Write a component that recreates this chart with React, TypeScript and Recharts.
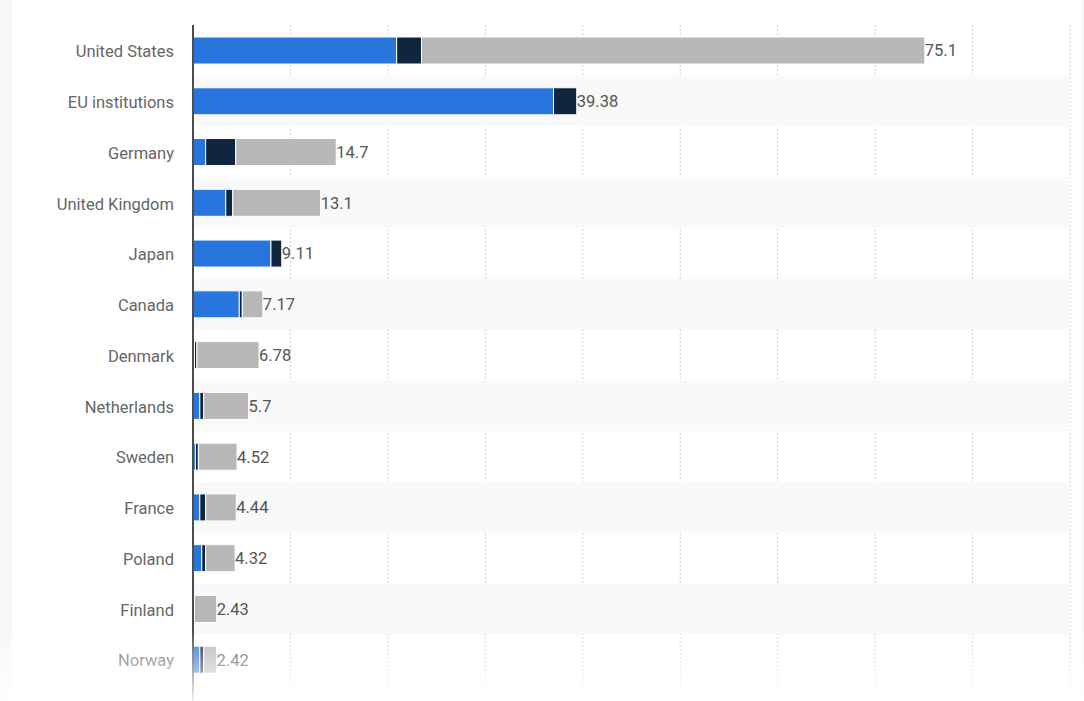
import {
    BarChart,
    Bar,
    XAxis,
    YAxis,
    CartesianGrid,
    ReferenceArea,
    LabelList,
} from "recharts";

const countries = [
    "United States",
    "EU institutions",
    "Germany",
    "United Kingdom",
    "Japan",
    "Canada",
    "Denmark",
    "Netherlands",
    "Sweden",
    "France",
    "Poland",
    "Finland",
    "Norway",
];
const financial = [20.9, 37.0, 1.3, 3.36, 8.0, 4.75, 0.15, 0.7, 0.25, 0.7, 0.9, 0, 0.7];
const humanitarian = [2.55, 2.38, 3.08, 0.72, 1.11, 0.31, 0.25, 0.4, 0.3, 0.6, 0.4, 0.15, 0.4];
const military = [51.65, 0, 10.32, 9.02, 0, 2.11, 6.38, 4.6, 3.97, 3.14, 3.02, 2.28, 1.32];
const totals = [75.1, 39.38, 14.7, 13.1, 9.11, 7.17, 6.78, 5.7, 4.52, 4.44, 4.32, 2.43, 2.42];
const xTicks = [0, 10, 20, 30, 40, 50, 60, 70, 80, 90];

const data = countries.map((country, i) => ({
    country,
    financial: financial[i],
    humanitarian: humanitarian[i],
    military: military[i],
    total: totals[i],
}));

const font = "Roboto, 'Noto Sans', Arial, sans-serif";

const labelStyle = { fill: "#555", fontSize: 16.5, fontFamily: font };

const App = () => {
    return (
        <div
            style={{
                position: "fixed",
                top: 0,
                left: 0,
                width: 1084,
                height: 701,
                overflow: "hidden",
                background: "#f6f7f9",
                fontFamily: font,
            }}
        >
            <div
                style={{
                    position: "absolute",
                    left: 12,
                    top: 0,
                    width: 1070,
                    height: 740,
                    background: "#fff",
                }}
            >
                <BarChart
                    width={1070}
                    height={730}
                    data={data}
                    layout="vertical"
                    margin={{ top: 25, right: 12, left: 0, bottom: 0 }}
                    barSize={27}
                >
                    {/* alternate row bands */}
                    {countries.map((c, i) =>
                        i % 2 === 1 ? (
                            <ReferenceArea
                                key={c}
                                y1={c}
                                y2={c}
                                fill="#f9f9f9"
                                fillOpacity={1}
                                stroke="none"
                            />
                        ) : null
                    )}
                    <CartesianGrid horizontal={false} stroke="#cfcfcf" strokeDasharray="2 2" />
                    <XAxis type="number" domain={[0, 90]} ticks={xTicks} hide />
                    <YAxis
                        type="category"
                        dataKey="country"
                        width={181}
                        tickLine={false}
                        tickSize={0}
                        tickMargin={19}
                        axisLine={{ stroke: "#4d4d4d", strokeWidth: 2 }}
                        padding={{ top: 0, bottom: 45 }}
                        tick={{ fill: "#666", fontSize: 16.5, fontFamily: font, dy: 1 }}
                    />
                    <Bar dataKey="financial" stackId="a" fill="#2876dd" stroke="#fff" strokeWidth={1} isAnimationActive={false} />
                    <Bar dataKey="humanitarian" stackId="a" fill="#10253e" stroke="#fff" strokeWidth={1} isAnimationActive={false}>
                        {/* rows without a military part get their total here */}
                        <LabelList
                            valueAccessor={(_: unknown, i: number) => (military[i] === 0 ? totals[i] : undefined)}
                            position="right"
                            offset={0}
                            {...labelStyle}
                        />
                    </Bar>
                    <Bar dataKey="military" stackId="a" fill="#b8b8b8" stroke="#fff" strokeWidth={1} isAnimationActive={false}>
                        <LabelList dataKey="total" position="right" offset={0} {...labelStyle} />
                    </Bar>
                </BarChart>
            </div>
            {/* bottom fade */}
            <div
                style={{
                    position: "absolute",
                    left: 0,
                    top: 628,
                    width: 1084,
                    height: 73,
                    background: "linear-gradient(to bottom, rgba(255,255,255,0), rgba(255,255,255,0.92))",
                }}
            />
        </div>
    );
};

export default App;
